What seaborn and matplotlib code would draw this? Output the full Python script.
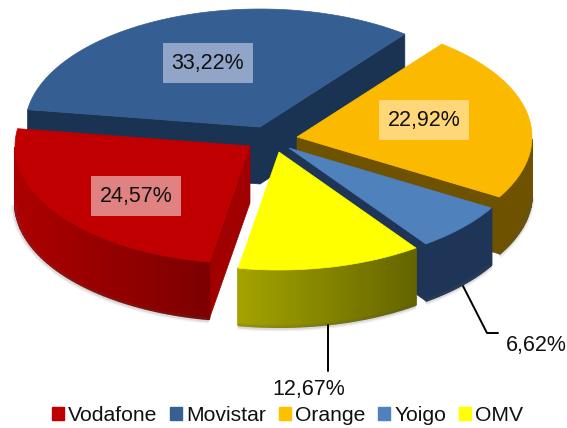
import numpy as np
import pandas as pd
import seaborn as sns
import matplotlib.pyplot as plt
from matplotlib.patches import Patch

names = ['Vodafone', 'Movistar', 'Orange', 'Yoigo', 'OMV']
values = [24.57, 33.22, 22.92, 6.62, 12.67]
labels = ['24,57%', '33,22%', '22,92%', '6,62%', '12,67%']

sns.set_theme(style='white')
plt.rcParams['font.family'] = ['Liberation Sans', 'DejaVu Sans']

top_colors = ['#C00000', '#355E92', '#FBBA00', '#4F81BD', '#FFFF00']
palette = sns.color_palette(top_colors)
legend_colors = ['#C00000', '#376092', '#FFC000', '#4F81BD', '#FFFF00']
# wall colours: left end, right end of the curved side
wall_left = ['#AD0000', '#1F3A5F', '#6E5200', '#1F3557', '#A3A300']
wall_right = ['#7C0000', '#1F3A5F', '#6E5200', '#1F3557', '#646400']
face_colors = ['#A00000', '#1B3352', '#6E5200', '#1F3557', '#646400']

# pie geometry, pixels
rx, ry, depth = 235, 118, 57
apex = {'Vodafone': (250, 146), 'Movistar': (260, 127), 'Orange': (297, 137),
        'Yoigo': (289, 148), 'OMV': (279, 152)}
boxes = {'Vodafone': (136, 196, '#E18282'), 'Movistar': (208, 63, '#91A5C8'),
         'Orange': (424, 120, '#FFD778')}

df = pd.DataFrame({'name': names, 'value': values, 'label': labels})
df['sweep'] = df['value'] / df['value'].sum() * 360
# vodafone ends at 260 deg and the slices go on clockwise
df['t2'] = 260 - df['sweep'].cumsum().shift(fill_value=0)
df['t1'] = df['t2'] - df['sweep']


def pts(name, t):
    x0, y0 = apex[name]
    t = np.radians(t)
    return x0 + rx * np.cos(t), y0 - ry * np.sin(t)


def mix(c1, c2, f):
    a = np.array(plt.matplotlib.colors.to_rgb(c1))
    b = np.array(plt.matplotlib.colors.to_rgb(c2))
    return tuple(a + (b - a) * f)


fig = plt.figure(figsize=(5.67, 4.28), dpi=100)
ax = fig.add_axes([0, 0, 1, 1])
ax.set_xlim(0, 567)
ax.set_ylim(428, 0)
ax.axis('off')


def draw_slice(i):
    row = df.iloc[i]
    name = row['name']
    x0, y0 = apex[name]
    ts = np.linspace(row['t1'], row['t2'], 60)
    xs, ys = pts(name, ts)

    # soft shadow round the lower outline
    front = np.sin(np.radians(ts)) < 0
    if front.any():
        for w, a in [(5, 0.08), (3, 0.14)]:
            ax.plot(xs[front] - 0.5, ys[front] + depth + 1, color='#555555', lw=w,
                    alpha=a, solid_capstyle='butt')

    # straight cut faces which look at the viewer
    for t, side in [(row['t1'], -90), (row['t2'], 90)]:
        if np.sin(np.radians(t + side)) < 0:
            ex, ey = pts(name, t)
            ax.fill([x0, ex, ex, x0], [y0, ey, ey + depth, y0 + depth],
                    color=face_colors[i], lw=0.5)

    # curved side, cut in strips for the gradient
    if front.any():
        lo, hi = xs[front].min(), xs[front].max()
        for k in range(len(ts) - 1):
            if not (front[k] and front[k + 1]):
                continue
            f = (xs[k] - lo) / max(hi - lo, 1)
            c = mix(wall_left[i], wall_right[i], f)
            ax.fill([xs[k], xs[k + 1], xs[k + 1], xs[k]],
                    [ys[k], ys[k + 1], ys[k + 1] + depth, ys[k] + depth],
                    color=c, lw=1.5, joinstyle='bevel')

    # top
    ax.fill(np.r_[x0, xs], np.r_[y0, ys], color=palette[i], lw=0.5)


# back to front
for i in [1, 2, 3, 0, 4]:
    draw_slice(i)

for name, (x, y, c) in boxes.items():
    txt = df.loc[df['name'] == name, 'label'].iloc[0]
    ax.text(x, y, txt, fontsize=15.5, color='#111111', ha='center', va='center',
            bbox=dict(boxstyle='square,pad=0.42', fc=c, ec='none'))

# outside labels and their leaders
ax.plot([463, 487, 498], [286, 333, 333], color='black', lw=1.4)
ax.plot([328, 328], [325, 371], color='black', lw=1.4)
ax.text(536, 345, labels[3], fontsize=15.5, color='#111111', ha='center', va='center')
ax.text(309, 389, labels[4], fontsize=15.5, color='#111111', ha='center', va='center')

handles = [Patch(color=c, label=n) for c, n in zip(legend_colors, names)]
ax.legend(handles=handles, ncol=5, loc='center left', bbox_to_anchor=(52 / 567, 1 - 415.5 / 428),
          frameon=False, fontsize=15.2, borderpad=0, borderaxespad=0,
          handlelength=0.55, handleheight=0.55, handletextpad=0.2, columnspacing=0.62,
          labelcolor='#111111')

fig.savefig('out.png', dpi=100)
